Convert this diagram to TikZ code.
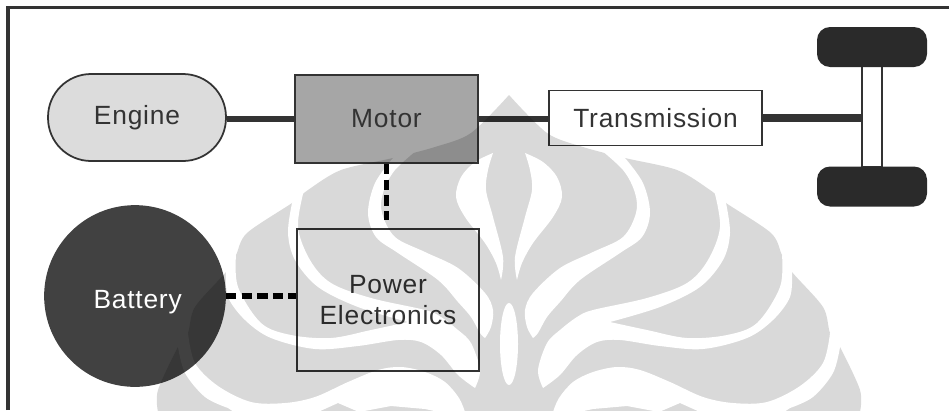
\documentclass[tikz,border=0pt]{standalone}
\usepackage{fontspec}
\setmainfont[LetterSpace=3]{Liberation Sans}
\definecolor{engine}{HTML}{DCDCDC}
\definecolor{motor}{HTML}{A6A6A6}
\definecolor{battery}{HTML}{414141}
\definecolor{wheel}{HTML}{2A2A2A}
\definecolor{ink}{HTML}{333333}
\definecolor{leaf}{HTML}{D9D9D9}
\begin{document}
\begin{tikzpicture}[x=0.02cm, y=-0.02cm,
	bloc/.style={draw=ink, line width=1pt, text=ink, align=center, inner sep=0, font=\fontsize{15}{18}\selectfont},
	roue/.style={fill=wheel, rounded corners=0.26cm, minimum width=2.2cm, minimum height=0.8cm},
	plein/.style={line width=#1, draw=ink, line cap=butt},
	tirets/.style={line width=3.4pt, draw=black, dash pattern=on 6pt off 2.9pt},
	courbe/.style={smooth, tension=0.55}]
	\useasboundingbox (0,0) rectangle (949,410);
	\draw[ink, line width=2pt] (8,410) -- (8,7.5) -- (949,7.5);
	
	\node[bloc, fill=engine, rounded corners=0.86cm, minimum width=3.56cm, minimum height=1.74cm] (engine) at (137,117.5) {Engine};
	\node[bloc, fill=motor, minimum width=3.66cm, minimum height=1.76cm] (motor) at (386.5,119) {Motor};
	\node[bloc, fill=white, minimum width=4.26cm, minimum height=1.1cm] (transmission) at (655.5,118) {Transmission};
	\node[bloc, fill=white, line width=0.8pt, minimum width=3.64cm, minimum height=2.84cm] (power) at (388,300) {Power\\Electronics};
	\node[bloc, circle, fill=battery, draw=battery, text=white, minimum size=3.6cm] (battery) at (135,296) {\rule{0pt}{17pt}\hspace{3pt}Battery};
	\node[draw=ink, fill=white, line width=1pt, inner sep=0, minimum width=0.4cm, minimum height=2cm] (axle) at (872,116.5) {};
	\node[roue] (wheeltop) at (872,47) {};
	\node[roue] (wheelbottom) at (872,186.5) {};
	
	\path (engine.east |- motor.west) edge[plein=3pt] (motor.west);
	\path (motor.east) edge[plein=3pt] (motor.east -| transmission.west);
	\path (transmission.east) edge[plein=5pt] (transmission.east -| axle.west);
	\path (motor.south) edge[tirets, shorten >=5pt] (motor.south |- power.north);
	\path (battery.east) edge[tirets] (battery.east -| power.west);
	
	% filigrane
	\begin{scope}[transparency group, blend mode=multiply]
	\foreach \s in {1,-1} {
		\begin{scope}[shift={(509,0)}, xscale=\s]
		\fill[leaf] plot[smooth] coordinates {(0,95) (38,133) (74,147) (116,158) (168,170) (201,190) (217,203) (262,233) (273,255) (283,272) (314,307) (321,333) (331,347) (351,390) (351,412)} -- (0,412) -- cycle;
		\fill[white] plot[courbe] coordinates {(86,145) (114,170) (126,193) (127,213) (114,237) (84,252) (51,268) (24,293) (16,310) (18,327) (24,338)}
			-- plot[courbe] coordinates {(24,338) (29,333) (38,317) (51,302) (71,280) (111,253) (133,237) (141,213) (134,183) (116,158)}
			-- (110,145) -- cycle;
		\fill[white] plot[courbe] coordinates {(205,190) (211,227) (199,260) (178,283) (138,298) (84,310) (68,317) (51,330) (38,343) (29,370) (34,388)}
			-- plot[courbe] coordinates {(34,388) (51,375) (68,355) (88,342) (111,340) (151,346) (194,349) (238,338) (264,320) (281,297) (283,272)}
			-- (290,262) -- plot[courbe] coordinates {(273,255) (271,287) (248,323) (218,335) (178,338) (138,330) (101,322)}
			-- plot[courbe] coordinates {(101,322) (151,307) (191,287) (214,260) (221,233) (217,203)}
			-- (212,188) -- cycle;
		\fill[white] plot[courbe] coordinates {(321,333) (314,363) (291,386) (258,402) (224,403) (194,397) (161,382) (131,370) (108,367) (84,372) (64,382) (50,398) (44,412)}
			-- (70,412) -- (84,409) -- (118,406) -- (150,412) -- (171,403) -- (191,412) -- (275,412)
			-- plot[courbe] coordinates {(281,408) (304,397) (324,373) (331,347)}
			-- (335,335) -- cycle;
		\fill[white] plot[courbe] coordinates {(16,153) (34,162) (48,177) (53,197) (44,217) (24,243) (13,263) (8,280)}
			-- plot[courbe] coordinates {(8,280) (6,257) (16,217) (23,190) (21,170) (16,153)} -- cycle;
		\end{scope}
	}
	\fill[white] (509,344) ellipse (9 and 41);
	\end{scope}
\end{tikzpicture}
\end{document}
